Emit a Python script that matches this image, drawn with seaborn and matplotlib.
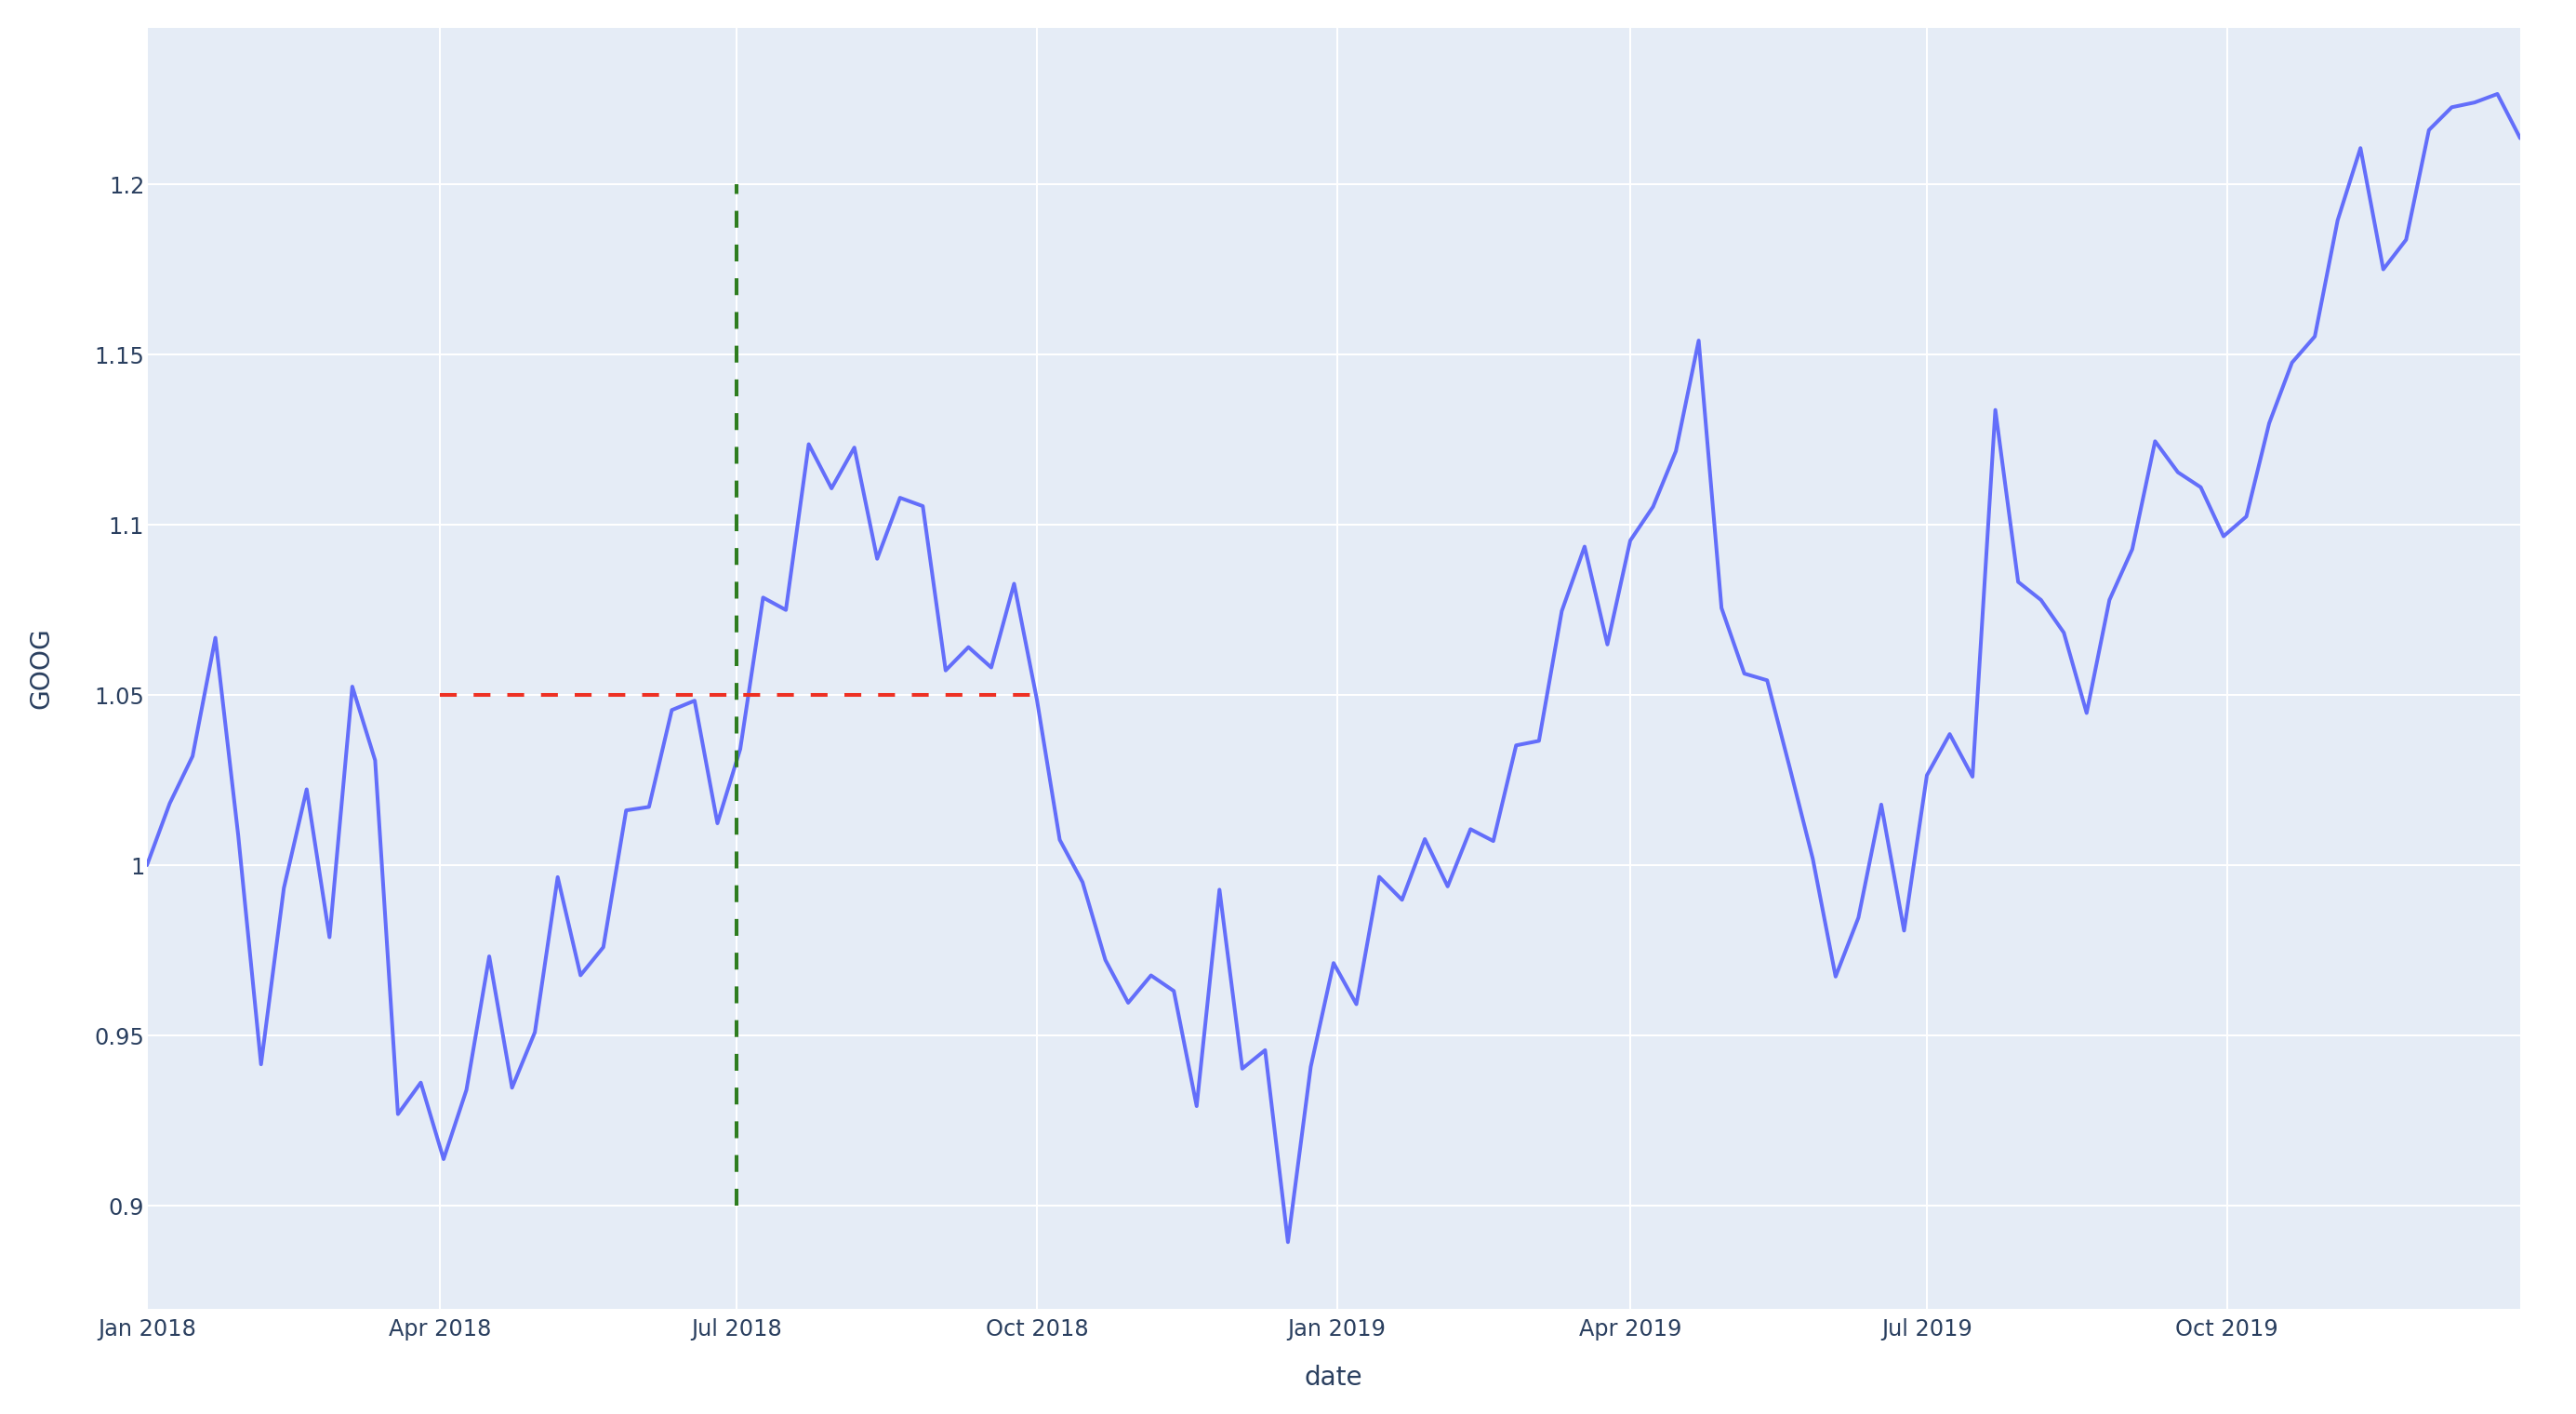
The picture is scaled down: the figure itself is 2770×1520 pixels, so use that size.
import seaborn as sns
import pandas as pd
import numpy as np
import matplotlib.pyplot as plt
import matplotlib.dates as mdates

# weekly GOOG (normalised to first week)
dates = pd.date_range("2018-01-01", "2019-12-30", freq="7D")
goog = [
    1.000000, 1.018172, 1.032008, 1.066783, 1.008773, 0.941528, 0.993259, 1.022282,
    0.978852, 1.052448, 1.030794, 0.926909, 0.936150, 0.913688, 0.933981, 0.973218,
    0.934650, 0.950943, 0.996493, 0.967677, 0.975933, 1.016101, 1.017116, 1.045562,
    1.048322, 1.012308, 1.034118, 1.078607, 1.074961, 1.123643, 1.110679, 1.122652,
    1.089987, 1.107904, 1.105460, 1.057205, 1.064044, 1.058072, 1.082662, 1.048603,
    1.007456, 0.995017, 0.972162, 0.959600, 0.967632, 0.963059, 0.929259, 0.992808,
    0.940251, 0.945679, 0.889317, 0.940790, 0.971264, 0.959185, 0.996582, 0.989834,
    1.007669, 0.993786, 1.010580, 1.007098, 1.035196, 1.036514, 1.074627, 1.093568,
    1.064826, 1.095325, 1.105265, 1.121594, 1.154079, 1.075540, 1.056280, 1.054300,
    1.028400, 1.001900, 0.967300, 0.984600, 1.017800, 0.980800, 1.026400, 1.038500,
    1.026000, 1.133700, 1.083200, 1.077900, 1.068300, 1.044700, 1.077900, 1.092800,
    1.124500, 1.115400, 1.111000, 1.096600, 1.102400, 1.129800, 1.147600, 1.155300,
    1.189400, 1.210600, 1.175000, 1.183700, 1.215900, 1.222600, 1.224000, 1.226500,
    1.213500,
]

# reference lines
hline_y = 1.05
hline_x = ["2018-04-01", "2018-10-01"]
vline_x = "2018-07-01"
vline_y = [0.9, 1.2]

df = pd.DataFrame({"date": dates, "GOOG": goog})

sns.set_style("darkgrid", {"axes.facecolor": "#E5ECF6", "grid.color": "white"})
plt.rcParams["font.family"] = ["DejaVu Sans"]
txt = "#2a3f5f"

fig = plt.figure(figsize=(27.7, 15.2), dpi=100)
ax = fig.add_axes([158 / 2770, 1 - 1407 / 1520, (2710 - 158) / 2770, (1407 - 30) / 1520])

sns.lineplot(data=df, x="date", y="GOOG", color="#636EFA", linewidth=2.9, ax=ax)

ax.plot(pd.to_datetime(hline_x), [hline_y, hline_y], color="#EE3124",
        linewidth=2.9, linestyle=(0, (4.5, 4.5)))
ax.plot(pd.to_datetime([vline_x, vline_x]), vline_y, color="#2E7D1F",
        linewidth=2.9, linestyle=(0, (4.5, 4.5)))

ax.set_xlim(pd.Timestamp("2018-01-01"), pd.Timestamp("2019-12-30"))
ax.set_ylim(0.8697, 1.2459)

ax.xaxis.set_major_locator(mdates.MonthLocator(bymonth=[1, 4, 7, 10]))
ax.xaxis.set_major_formatter(mdates.DateFormatter("%b %Y"))
ax.set_yticks([0.9, 0.95, 1.0, 1.05, 1.1, 1.15, 1.2])
ax.set_yticklabels(["0.9", "0.95", "1", "1.05", "1.1", "1.15", "1.2"])

ax.grid(True, color="white", linewidth=1.45)
for s in ax.spines.values():
    s.set_visible(False)
ax.tick_params(axis="both", length=0, labelsize=17.3, labelcolor=txt)
ax.tick_params(axis="x", pad=7)
ax.tick_params(axis="y", pad=2)

ax.set_xlabel("date", fontsize=20.2, color=txt, labelpad=19)
ax.set_ylabel("GOOG", fontsize=20.2, color=txt, labelpad=31)

fig.savefig("out.png", dpi=100, facecolor="white")
